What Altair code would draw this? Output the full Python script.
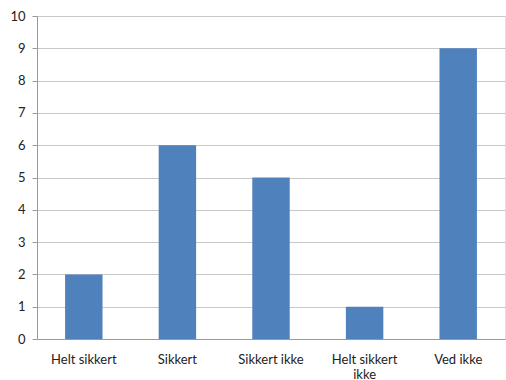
import altair as alt
import pandas as pd

categories = ["Helt sikkert", "Sikkert", "Sikkert ikke", "Helt sikkert ikke", "Ved ikke"]
values = [2, 6, 5, 1, 9]

df = pd.DataFrame({"kategori": categories, "antall": values})

font = "Lato"

chart = alt.Chart(df).mark_bar(color="#4F81BD", width=alt.RelativeBandSize(0.4)).encode(
    x=alt.X(
        "kategori:N",
        sort=categories,
        scale=alt.Scale(paddingInner=0, paddingOuter=0),
        axis=alt.Axis(
            title=None,
            labelAngle=0,
            labelFont=font,
            labelFontSize=13,
            labelColor="#222222",
            labelPadding=14,
            ticks=False,
            domainColor="#9a9a9a",
            labelExpr="datum.label == 'Helt sikkert ikke' ? ['Helt sikkert', 'ikke'] : datum.label",
            labelLineHeight=15,
        ),
    ),
    y=alt.Y(
        "antall:Q",
        scale=alt.Scale(domain=[0, 10], nice=False),
        axis=alt.Axis(
            title=None,
            values=list(range(0, 11)),
            labelFont=font,
            labelFontSize=13,
            labelColor="#222222",
            tickSize=5,
            tickColor="#9a9a9a",
            domainColor="#9a9a9a",
            gridColor="#c8c8c8",
            labelPadding=7,
        ),
    ),
).properties(
    width=468,
    height=323,
    padding={"left": 37, "top": 16, "right": 1, "bottom": 41},
    autosize=alt.AutoSizeParams(type="none"),
).configure_view(stroke=None).configure(background="white")

chart.save("out.html", embed_options={"renderer": "svg", "actions": False})
